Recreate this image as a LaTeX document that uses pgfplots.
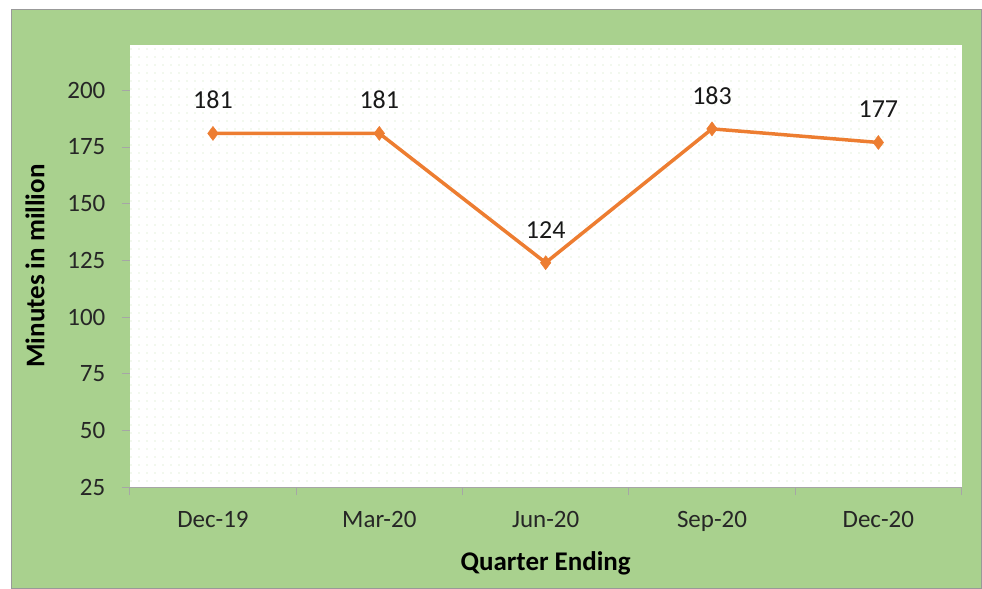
\documentclass[border=0pt]{standalone}
\usepackage{fontspec}
\setmainfont{Carlito}
\usepackage{pgfplots}
\pgfplotsset{compat=1.18}
\usetikzlibrary{patterns.meta}
\definecolor{bggreen}{HTML}{A9D18E}
\definecolor{dotgreen}{HTML}{C9E2B8}
\definecolor{lineorange}{HTML}{ED7D31}
\definecolor{axgray}{HTML}{A6A6A6}
\tikzdeclarepattern{
  name=exceldots,
  type=uncolored,
  bottom left={(0pt,0pt)},
  top right={(8pt,8pt)},
  tile size={(8pt,8pt)},
  code={\pgfpathcircle{\pgfpoint{4pt}{4pt}}{0.6pt}\pgfusepath{fill}}
}
\begin{document}
\begin{tikzpicture}
% outer page and green chart area (1px = 1pt, axis origin at px (130,488))
\fill[white] (-130pt,-101pt) rectangle (852pt,488pt);
\filldraw[fill=bggreen, draw=gray!80, line width=1pt] (-118pt,-101pt) rectangle (853pt,478pt);
\begin{axis}[
    scale only axis,
    width=833pt, height=443pt,
    xmin=-0.5, xmax=4.5,
    ymin=25, ymax=220,
    axis background/.style={fill=white},
    axis x line*=bottom,
    axis y line*=left,
    x axis line style={draw=axgray, line width=1pt},
    y axis line style={draw=none},
    tick align=outside,
    tick style={axgray, line width=1pt},
    major tick length=8pt,
    minor tick length=8pt,
    xtick={0,1,2,3,4},
    xticklabels={Dec-19,Mar-20,Jun-20,Sep-20,Dec-20},
    minor xtick={-0.5,0.5,1.5,2.5,3.5,4.5},
    xtick style={draw=none},
    minor x tick style={draw=axgray, line width=1pt},
    ytick={25,50,...,200},
    /pgf/number format/assume math mode=true,
    ticklabel style={font=\fontsize{25}{29}\selectfont, text=black!85},
    xticklabel style={yshift=-13pt},
    yticklabel style={xshift=-13pt},
    xlabel={\textbf{Quarter Ending}},
    ylabel={\textbf{Minutes in million}},
    label style={font=\fontsize{27}{31}\selectfont},
    x label style={at={(axis description cs:0.5,-0.172)}, anchor=center},
    y label style={at={(axis description cs:-0.114,0.5)}, anchor=center, rotate=0},
    nodes near coords,
    every node near coord/.style={font=\fontsize{26}{30}\selectfont, text=black!90, anchor=south, yshift=21pt},
    clip=false,
]
\fill[pattern=exceldots, pattern color=dotgreen] (rel axis cs:0,0) rectangle (rel axis cs:1,1);
\addplot[lineorange, line width=3.5pt, mark=diamond*, mark size=7pt, mark options={fill=lineorange, draw=lineorange, line width=0.5pt}]
coordinates {
(0,181)
(1,181)
(2,124)
(3,183)
(4,177)
};
\end{axis}
\end{tikzpicture}
\end{document}
